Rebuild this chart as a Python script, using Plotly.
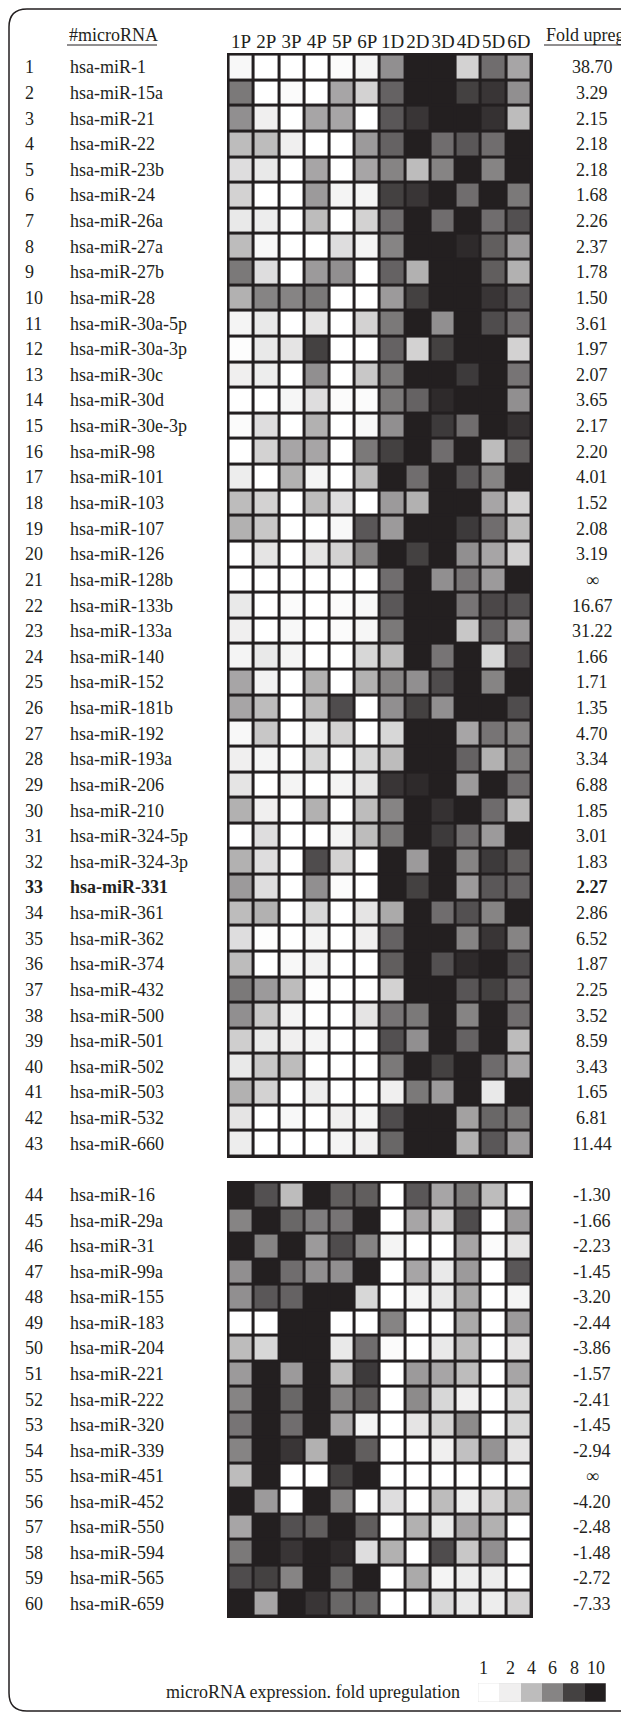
import plotly.graph_objects as go

# ---------------- data ----------------
samples = ["1P", "2P", "3P", "4P", "5P", "6P", "1D", "2D", "3D", "4D", "5D", "6D"]

mirnas = [
    "hsa-miR-1", "hsa-miR-15a", "hsa-miR-21", "hsa-miR-22", "hsa-miR-23b",
    "hsa-miR-24", "hsa-miR-26a", "hsa-miR-27a", "hsa-miR-27b", "hsa-miR-28",
    "hsa-miR-30a-5p", "hsa-miR-30a-3p", "hsa-miR-30c", "hsa-miR-30d", "hsa-miR-30e-3p",
    "hsa-miR-98", "hsa-miR-101", "hsa-miR-103", "hsa-miR-107", "hsa-miR-126",
    "hsa-miR-128b", "hsa-miR-133b", "hsa-miR-133a", "hsa-miR-140", "hsa-miR-152",
    "hsa-miR-181b", "hsa-miR-192", "hsa-miR-193a", "hsa-miR-206", "hsa-miR-210",
    "hsa-miR-324-5p", "hsa-miR-324-3p", "hsa-miR-331", "hsa-miR-361", "hsa-miR-362",
    "hsa-miR-374", "hsa-miR-432", "hsa-miR-500", "hsa-miR-501", "hsa-miR-502",
    "hsa-miR-503", "hsa-miR-532", "hsa-miR-660",
    "hsa-miR-16", "hsa-miR-29a", "hsa-miR-31", "hsa-miR-99a", "hsa-miR-155",
    "hsa-miR-183", "hsa-miR-204", "hsa-miR-221", "hsa-miR-222", "hsa-miR-320",
    "hsa-miR-339", "hsa-miR-451", "hsa-miR-452", "hsa-miR-550", "hsa-miR-594",
    "hsa-miR-565", "hsa-miR-659",
]

fold_upreg = [
    "38.70", "3.29", "2.15", "2.18", "2.18", "1.68", "2.26", "2.37", "1.78", "1.50",
    "3.61", "1.97", "2.07", "3.65", "2.17", "2.20", "4.01", "1.52", "2.08", "3.19",
    "∞", "16.67", "31.22", "1.66", "1.71", "1.35", "4.70", "3.34", "6.88", "1.85",
    "3.01", "1.83", "2.27", "2.86", "6.52", "1.87", "2.25", "3.52", "8.59", "3.43",
    "1.65", "6.81", "11.44",
    "-1.30", "-1.66", "-2.23", "-1.45", "-3.20", "-2.44", "-3.86", "-1.57", "-2.41",
    "-1.45", "-2.94", "∞", "-4.20", "-2.48", "-1.48", "-2.72", "-7.33",
]

# relative expression shade (0 = white ... 100 = black), columns as in `samples`
expression = [
    [3, 0, 0, 0, 2, 5, 50, 100, 100, 20, 65, 40],
    [60, 0, 2, 0, 40, 20, 70, 100, 100, 85, 90, 50],
    [50, 7, 0, 40, 40, 0, 75, 90, 100, 100, 92, 30],
    [30, 30, 7, 0, 0, 45, 70, 100, 65, 75, 65, 100],
    [15, 10, 0, 40, 0, 40, 55, 30, 55, 100, 55, 100],
    [20, 0, 0, 45, 5, 5, 85, 90, 100, 65, 100, 60],
    [10, 8, 0, 30, 0, 20, 65, 100, 65, 100, 65, 78],
    [30, 3, 0, 0, 15, 5, 55, 100, 100, 95, 72, 45],
    [60, 15, 0, 45, 50, 0, 70, 35, 100, 100, 72, 35],
    [35, 55, 55, 60, 0, 0, 45, 85, 100, 100, 90, 75],
    [5, 10, 0, 12, 0, 20, 60, 100, 50, 100, 80, 65],
    [1, 10, 12, 85, 0, 0, 70, 20, 85, 100, 100, 20],
    [7, 8, 0, 50, 0, 25, 60, 100, 100, 88, 100, 62],
    [0, 0, 4, 15, 2, 2, 60, 70, 95, 100, 100, 50],
    [2, 15, 0, 35, 0, 3, 50, 100, 88, 65, 100, 92],
    [0, 20, 40, 40, 0, 60, 85, 100, 65, 100, 30, 72],
    [8, 0, 35, 5, 0, 30, 100, 65, 100, 75, 55, 100],
    [30, 20, 0, 30, 15, 0, 45, 35, 100, 100, 40, 20],
    [35, 25, 0, 0, 3, 75, 45, 100, 100, 88, 65, 30],
    [0, 12, 0, 12, 20, 55, 100, 85, 100, 50, 40, 20],
    [0, 0, 0, 0, 0, 0, 65, 100, 50, 62, 45, 100],
    [10, 0, 2, 0, 2, 3, 75, 100, 100, 62, 82, 78],
    [7, 0, 3, 0, 2, 4, 60, 100, 100, 25, 70, 45],
    [5, 10, 5, 0, 0, 18, 30, 100, 62, 100, 18, 82],
    [40, 6, 0, 35, 0, 35, 55, 50, 80, 100, 55, 100],
    [40, 30, 0, 30, 80, 0, 50, 85, 50, 100, 100, 80],
    [3, 25, 0, 8, 20, 0, 18, 100, 100, 40, 62, 55],
    [7, 5, 0, 18, 0, 18, 30, 100, 100, 70, 35, 60],
    [12, 0, 5, 0, 5, 12, 90, 95, 100, 45, 100, 65],
    [35, 7, 0, 35, 0, 30, 55, 100, 92, 100, 66, 30],
    [0, 15, 0, 0, 5, 30, 60, 100, 88, 65, 45, 100],
    [35, 15, 0, 80, 20, 0, 100, 45, 100, 55, 88, 72],
    [45, 15, 0, 50, 2, 0, 100, 85, 100, 45, 75, 70],
    [30, 35, 0, 18, 0, 12, 38, 100, 65, 78, 55, 100],
    [15, 1, 0, 5, 0, 7, 70, 100, 100, 55, 90, 55],
    [30, 0, 3, 6, 0, 0, 72, 100, 78, 95, 100, 80],
    [60, 45, 30, 1, 0, 0, 20, 100, 100, 76, 85, 65],
    [50, 25, 5, 0, 0, 12, 62, 60, 100, 55, 100, 65],
    [22, 10, 7, 5, 0, 0, 78, 50, 100, 70, 100, 30],
    [10, 25, 30, 0, 0, 0, 60, 100, 85, 100, 66, 40],
    [35, 20, 0, 8, 0, 0, 7, 60, 45, 100, 10, 100],
    [12, 0, 3, 0, 7, 5, 80, 100, 100, 42, 68, 60],
    [8, 0, 0, 0, 5, 7, 68, 100, 100, 35, 75, 45],
    [100, 78, 30, 100, 72, 72, 0, 75, 40, 60, 30, 0],
    [55, 100, 68, 58, 62, 100, 0, 40, 20, 80, 0, 45],
    [100, 55, 100, 45, 80, 55, 5, 0, 0, 40, 2, 12],
    [50, 100, 65, 50, 50, 100, 0, 40, 10, 45, 0, 75],
    [50, 75, 70, 100, 100, 18, 0, 5, 10, 38, 0, 5],
    [0, 0, 100, 100, 0, 0, 55, 0, 0, 38, 0, 45],
    [30, 18, 100, 100, 10, 65, 2, 0, 10, 30, 0, 12],
    [45, 100, 45, 100, 30, 88, 0, 45, 40, 30, 0, 40],
    [55, 100, 68, 100, 55, 72, 0, 52, 18, 7, 0, 18],
    [62, 100, 65, 100, 40, 5, 0, 12, 20, 52, 0, 18],
    [55, 100, 90, 35, 100, 72, 0, 0, 7, 28, 48, 12],
    [30, 100, 0, 0, 85, 100, 0, 0, 0, 0, 0, 0],
    [100, 45, 0, 100, 55, 0, 15, 0, 30, 8, 20, 35],
    [40, 100, 78, 72, 100, 72, 0, 35, 10, 40, 35, 0],
    [60, 100, 90, 100, 95, 15, 35, 0, 80, 25, 50, 0],
    [80, 85, 55, 100, 68, 100, 0, 38, 5, 8, 8, 0],
    [100, 40, 100, 90, 68, 68, 0, 0, 18, 10, 8, 20],
]

n_upregulated = 43
highlight = "hsa-miR-331"

legend_labels = ["1", "2", "4", "6", "8", "10"]
legend_shades = [0, 7, 30, 55, 85, 100]
legend_title = "microRNA expression. fold upregulation"

# ---------------- layout helpers ----------------
OFF = 8                      # default page margin of the html body
W, H = 629 - OFF, 1715 - OFF
INK = "#231f20"
FONT = "Liberation Serif, Times New Roman, serif"
FS = 18


def px(x):
    return (x - OFF) / W


def py(y):
    return 1 - (y - OFF) / H


gray_scale = [[0, "#ffffff"], [1, INK]]
pad = 0.06

up_rows = list(range(1, n_upregulated + 1))
down_rows = list(range(n_upregulated + 1, len(mirnas) + 1))

fig = go.Figure()
fig.add_trace(go.Heatmap(
    z=expression[:n_upregulated], x=samples, y=up_rows,
    colorscale=gray_scale, zmin=0, zmax=100, showscale=False,
    xgap=3, ygap=3, hoverinfo="skip", xaxis="x", yaxis="y"))
fig.add_trace(go.Heatmap(
    z=expression[n_upregulated:], x=samples, y=down_rows,
    colorscale=gray_scale, zmin=0, zmax=100, showscale=False,
    xgap=3, ygap=3, hoverinfo="skip", xaxis="x", yaxis="y2"))
fig.add_trace(go.Heatmap(
    z=[legend_shades], x=list(range(len(legend_shades))), y=[0],
    colorscale=gray_scale, zmin=0, zmax=100, showscale=False,
    hoverinfo="skip", xaxis="x3", yaxis="y3"))

annotations = []
for i, (name, fold) in enumerate(zip(mirnas, fold_upreg)):
    r = i + 1
    yref = "y" if r <= n_upregulated else "y2"
    bold = name == highlight
    fmt = (lambda s: f"<b>{s}</b>") if bold else (lambda s: s)
    common = dict(yref=yref, y=r, xref="paper", yanchor="middle", showarrow=False,
                  font=dict(family=FONT, size=FS, color=INK))
    annotations.append(dict(text=fmt(str(r)), x=px(23), xanchor="left", **common))
    annotations.append(dict(text=fmt(name), x=px(68), xanchor="left", **common))
    annotations.append(dict(text=fmt(fold), x=px(592), xanchor="center", **common))

hdr = dict(xref="paper", yref="paper", showarrow=False, yanchor="middle",
           font=dict(family=FONT, size=FS, color=INK))
annotations.append(dict(text="#microRNA", x=px(67), y=py(35), xanchor="left", **hdr))
annotations.append(dict(text="Fold upreg.", x=px(544), y=py(35), xanchor="left", **hdr))
annotations.append(dict(text=legend_title, x=px(462), y=py(1692), xanchor="right", **hdr))

legend_label_pos = [-0.25, 1.0, 2.0, 2.97, 4.0, 5.05]
for lab, pos in zip(legend_labels, legend_label_pos):
    annotations.append(dict(text=lab, x=pos, xref="x3", y=py(1668), yref="paper",
                            xanchor="center", yanchor="middle", showarrow=False,
                            font=dict(family=FONT, size=FS, color=INK)))

r = 18
L, T, B, R = 9, 9, 1711, 700
border = (f"M {px(R)},{py(T)} L {px(L + r)},{py(T)} Q {px(L)},{py(T)} {px(L)},{py(T + r)} "
          f"L {px(L)},{py(B - r)} Q {px(L)},{py(B)} {px(L + r)},{py(B)} L {px(R)},{py(B)}")
shapes = [
    dict(type="path", path=border, xref="paper", yref="paper",
         line=dict(color=INK, width=1.5)),
    dict(type="line", xref="paper", yref="paper", x0=px(67), x1=px(157), y0=py(45), y1=py(45),
         line=dict(color=INK, width=1)),
    dict(type="line", xref="paper", yref="paper", x0=px(544), x1=px(632), y0=py(45), y1=py(45),
         line=dict(color=INK, width=1)),
    dict(type="rect", xref="x3", yref="y3", x0=-0.5, x1=5.5, y0=-0.5, y1=0.5,
         line=dict(color="#d8d8d8", width=0.6)),
]

hidden = dict(visible=False, showgrid=False, zeroline=False, fixedrange=True)
fig.update_layout(
    width=W, height=H, margin=dict(l=0, r=0, t=0, b=0),
    paper_bgcolor="white", plot_bgcolor=INK, showlegend=False,
    xaxis=dict(domain=[px(227), px(533)], range=[-0.5 - pad, 11.5 + pad], side="top",
               anchor="y", showgrid=False, zeroline=False, ticks="", ticklen=0,
               tickangle=0, automargin=False,
               tickfont=dict(family=FONT, size=19, color=INK), fixedrange=True),
    yaxis=dict(domain=[py(1158), py(53)], range=[n_upregulated + 0.5 + pad, 0.5 - pad],
               anchor="x", **hidden),
    yaxis2=dict(domain=[py(1618), py(1181)], range=[len(mirnas) + 0.5 + pad, n_upregulated + 0.5 - pad],
                anchor="x", **hidden),
    xaxis3=dict(domain=[px(478), px(606)], range=[-0.5, 5.5], anchor="y3", **hidden),
    yaxis3=dict(domain=[py(1702), py(1683)], range=[-0.5, 0.5], anchor="x3", **hidden),
    annotations=annotations, shapes=shapes,
)

fig.write_html("out.html")
